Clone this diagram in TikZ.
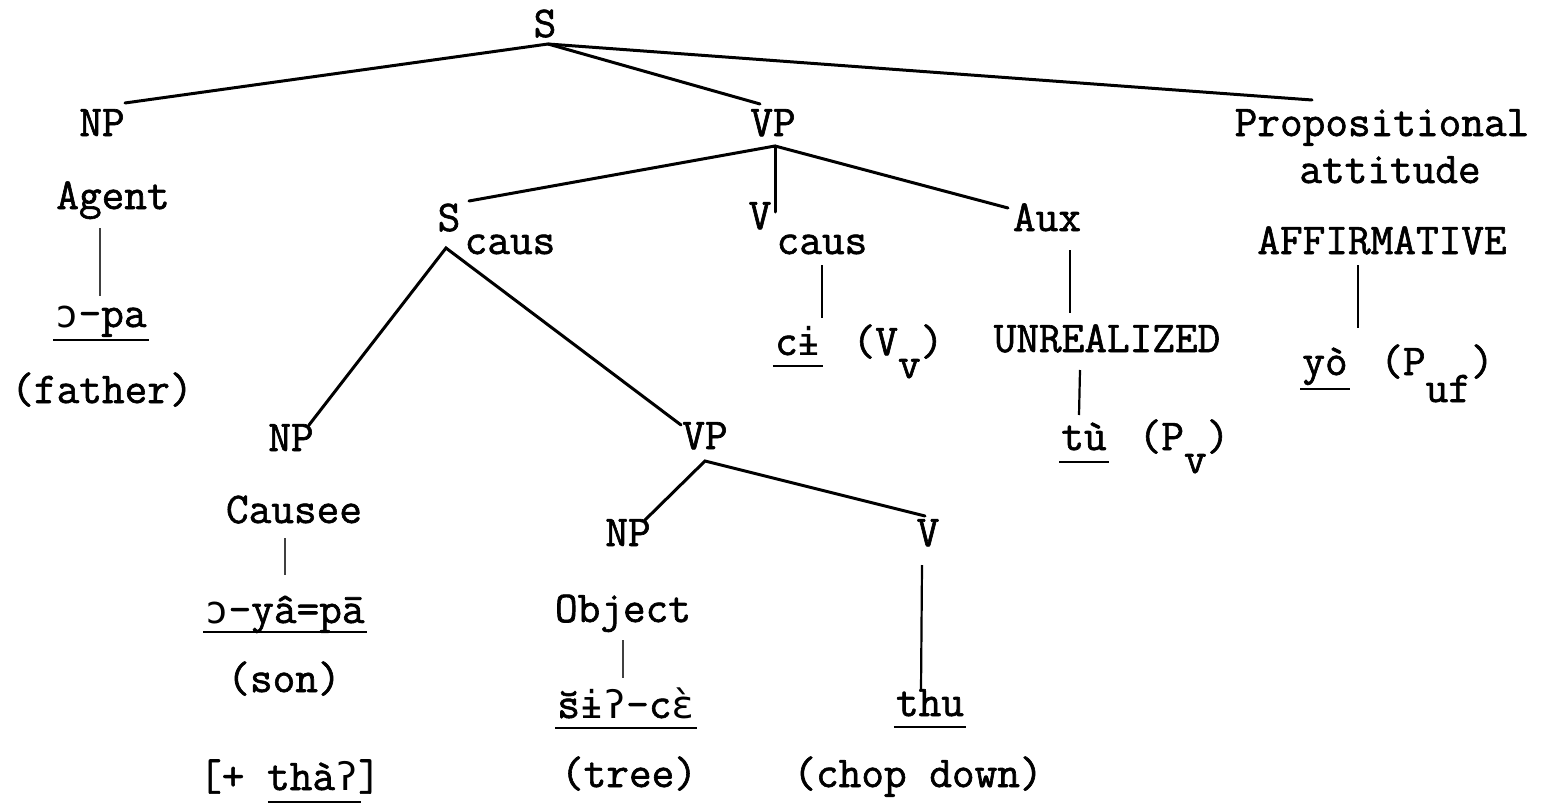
\documentclass[tikz,border=0pt]{standalone}
\usepackage{fontspec}
\setmonofont{Latin Modern Mono}[FakeBold=1.4]
\newfontfamily\ipa{DejaVu Sans Mono}[Scale=0.872]
\begin{document}
\begin{tikzpicture}[x=1pt,y=-1pt,
  lab/.style={font=\ttfamily\fontsize{44}{48}\selectfont, inner sep=0pt,
              text height=0.62em, text depth=0.22em, anchor=base},
  ulab/.style={lab, inner xsep=2pt},
  branch/.style={line width=3pt, line cap=round},
  stem/.style={line width=2.2pt},
  faint/.style={line width=1.1pt, black!75},
  uline/.style={line width=1.8pt}]
\fill[white] (0,0) rectangle (1546,808);
\useasboundingbox (0,0) rectangle (1546,808);

% ---- top level
\node[lab] (S)   at (545,37)  {S};
\node[lab] (NP1) at (102,136) {NP};
\node[lab] (VP1) at (773,136) {VP};
\node[lab] (Pr1) at (1382,136) {Propositional};
\node[lab] (Pr2) at (1390,183) {attitude};

% subject branch
\node[lab]  (Agent)  at (113,209) {Agent};
\node[ulab] (opa)    at (101,327) {{\ipa ɔ}-pa};
\node[lab]  (father) at (102,403) {(father)};

% verb phrase daughters
\node[lab] (Sc)    at (449,231) {S};
\node[lab] (Scs)   at (510,254) {caus};
\node[lab] (Vc)    at (760,229) {V};
\node[lab] (Vcs)   at (822,254) {caus};
\node[lab] (Aux)   at (1047,231) {Aux};
\node[ulab] (ci)   at (798,355) {c{\ipa ɨ}};
\node[lab] (Vv)    at (898,355) {(V\raisebox{-23pt}{v})};
\node[lab] (Unr)   at (1107,352) {UNREALIZED};
\node[ulab] (tu)   at (1084,450) {tù};
\node[lab] (Pv)    at (1184,450) {(P\raisebox{-23pt}{v})};

% propositional attitude
\node[lab]  (Aff)  at (1382,254) {AFFIRMATIVE};
\node[ulab] (yo)   at (1325,375) {yò};
\node[lab]  (Puf)  at (1437,375) {(P\raisebox{-27pt}{uf})};

% embedded causative clause
\node[lab]  (NP2)    at (291,451) {NP};
\node[lab]  (Causee) at (294,523) {Causee};
\node[ulab] (son1)   at (285,623) {{\ipa ɔ}-yâ=pā};
\node[lab]  (son2)   at (284,692) {(son)};
\node[lab]  (tha)    at (290,790) {[+ thà{\ipa ʔ}]};
\node[lab]  (VP2)    at (705,449) {VP};
\node[lab]  (NP3)    at (628,546) {NP};
\node[lab]  (Obj)    at (623,622) {Object};
\node[ulab] (tree1)  at (626,718) {\u{s}{\ipa ɨʔ}-c{\ipa\accent"60 ɛ}};
\node[lab]  (tree2)  at (629,787) {(tree)};
\node[lab]  (V3)     at (928,546) {V};
\node[ulab] (thu)    at (930,716) {thu};
\node[lab]  (chop)   at (918,787) {(chop down)};

% ---- attachment points of the branches
\coordinate (S-b)   at (548,44);
\coordinate (NP1-t) at (125,103);
\coordinate (VP1-t) at (760,104);
\coordinate (Pr-t)  at (1312,100);
\coordinate (VP1-b) at (775,146);
\coordinate (Sc-t)  at (469,201);
\coordinate (Vc-t)  at (775,212);
\coordinate (Aux-t) at (1008,208);
\coordinate (Sc-b)  at (446,248);
\coordinate (NP2-t) at (309,425);
\coordinate (VP2-t) at (681,425);
\coordinate (VP2-b) at (705,461);
\coordinate (NP3-t) at (645,520);
\coordinate (V3-t)  at (925,516);

\draw[branch] (NP1-t) -- (S-b) -- (VP1-t);
\draw[branch] (S-b) -- (Pr-t);
\draw[branch] (Sc-t) -- (VP1-b) -- (Aux-t);
\draw[branch] (VP1-b) -- (Vc-t);
\draw[branch] (NP2-t) -- (Sc-b) -- (VP2-t);
\draw[branch] (NP3-t) -- (VP2-b) -- (V3-t);

% ---- stems down to the lexical items
\coordinate (Ag-s1) at (100,228);  \coordinate (Ag-s2) at (100,296);
\coordinate (Vc-s1) at (822,265);  \coordinate (Vc-s2) at (822,318);
\coordinate (Ax-s1) at (1070,250); \coordinate (Ax-s2) at (1070,313);
\coordinate (Un-s1) at (1080,370); \coordinate (Un-s2) at (1079,415);
\coordinate (Af-s1) at (1358,265); \coordinate (Af-s2) at (1358,328);
\coordinate (Ca-s1) at (285,538);  \coordinate (Ca-s2) at (285,575);
\coordinate (Ob-s1) at (623,640);  \coordinate (Ob-s2) at (623,678);
\coordinate (V3-s1) at (922,565);  \coordinate (V3-s2) at (921,690);

\draw[faint] (Ag-s1) -- (Ag-s2);
\draw[stem] (Vc-s1) -- (Vc-s2);
\draw[stem] (Ax-s1) -- (Ax-s2);
\draw[stem] (Un-s1) -- (Un-s2);
\draw[stem] (Af-s1) -- (Af-s2);
\draw[faint] (Ca-s1) -- (Ca-s2);
\draw[faint] (Ob-s1) -- (Ob-s2);
\draw[stem] (V3-s1) -- (V3-s2);

% ---- underlines
\foreach \n/\d in {opa/13, ci/11, tu/12, yo/14, son1/9, tree1/10, thu/11}
  \draw[uline] ([yshift=-\d pt]\n.base west) -- ([yshift=-\d pt]\n.base east);
\draw[uline] ([xshift=69pt,yshift=-12pt]tha.base west) -- ([xshift=-20pt,yshift=-12pt]tha.base east);
\end{tikzpicture}
\end{document}
